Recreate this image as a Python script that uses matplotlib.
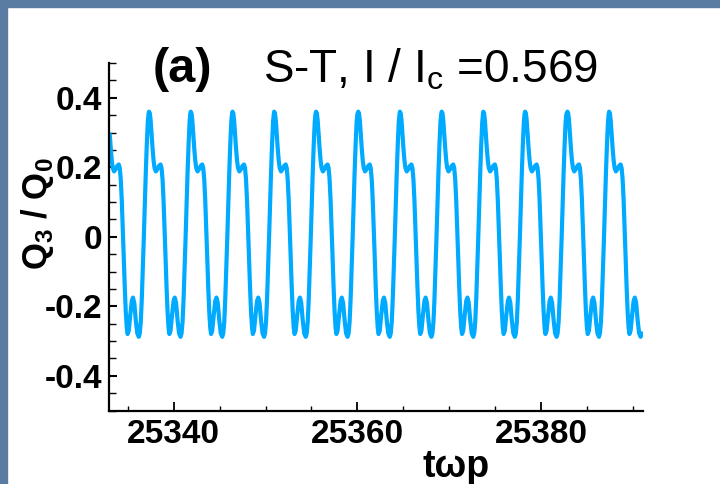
import numpy as np
import matplotlib
matplotlib.use("Agg")
import matplotlib.pyplot as plt
from matplotlib.patches import Rectangle
from matplotlib.ticker import MultipleLocator, FixedLocator

plt.rcParams['font.family'] = ['Liberation Sans', 'DejaVu Sans']
plt.rcParams['mathtext.fontset'] = 'custom'
plt.rcParams['mathtext.rm'] = 'Liberation Sans'
plt.rcParams['mathtext.bf'] = 'Liberation Sans:bold'

# ---- data ----
# times of the main maxima of Q3/Q0 (t*omega_p)
peak_times = [25332.76, 25337.31, 25341.85, 25346.40, 25350.94, 25355.50,
              25360.09, 25364.63, 25369.18, 25373.71, 25378.26, 25382.87,
              25387.41]
# shape of one oscillation, read after each maximum: offset in t*omega_p and value
cycle_dt = [0.000, 0.087, 0.174, 0.272, 0.381, 0.490, 0.599, 0.741, 0.926,
            1.090, 1.253, 1.362, 1.471, 1.580, 1.689, 1.798, 1.907, 2.016,
            2.125, 2.213, 2.343, 2.507, 2.670, 2.801, 2.943, 3.106, 3.270,
            3.433, 3.542, 3.651, 3.760, 3.869, 3.978, 4.087, 4.196, 4.305,
            4.414, 4.490]
cycle_q = [0.360, 0.355, 0.335, 0.295, 0.255, 0.220, 0.198, 0.188, 0.195,
           0.204, 0.208, 0.198, 0.165, 0.105, 0.025, -0.060, -0.145, -0.215,
           -0.262, -0.280, -0.270, -0.225, -0.185, -0.175, -0.190, -0.240,
           -0.278, -0.288, -0.278, -0.245, -0.180, -0.095, -0.005, 0.090,
           0.185, 0.265, 0.330, 0.352]
# recorded time window of the trace
t_start, t_end = 25333.03, 25391.05

x_ticks = [25340, 25360, 25380]
y_ticks = [-0.4, -0.2, 0, 0.2, 0.4]
y_tick_labels = ['-0.4', '-0.2', '0', '0.2', '0.4']
x_range = (25332.95, 25391.1)
y_range = (-0.5, 0.5)

# assemble the trace from the read cycles
t_all, q_all = [], []
for p in peak_times:
    for d, q in zip(cycle_dt, cycle_q):
        t_all.append(p + d)
        q_all.append(q)
t_all = np.array(t_all)
q_all = np.array(q_all)
keep = (t_all >= t_start) & (t_all <= t_end)
t_all, q_all = t_all[keep], q_all[keep]

W, H = 720, 484
fig = plt.figure(figsize=(W / 100, H / 100), dpi=100, facecolor='white')

# slide-like blue frame at top/left
border = '#5a7ca3'
fig.patches.append(Rectangle((0, 1 - 7 / H), 1, 7 / H, transform=fig.transFigure,
                             color=border, zorder=0))
fig.patches.append(Rectangle((0, 0), 7 / W, 1, transform=fig.transFigure,
                             color=border, zorder=0))

ax = fig.add_axes([109 / W, (H - 410.5) / H, (643 - 109) / W, (410.5 - 63) / H])
ax.set_facecolor('white')
ax.plot(t_all, q_all, color='#00aaff', lw=3.0, solid_joinstyle='round',
        solid_capstyle='round')
ax.set_xlim(*x_range)
ax.set_ylim(*y_range)

for s in ['top', 'right']:
    ax.spines[s].set_visible(False)
for s in ['left', 'bottom']:
    ax.spines[s].set_linewidth(1.6)
    ax.spines[s].set_color('black')

ax.xaxis.set_major_locator(FixedLocator(x_ticks))
ax.xaxis.set_minor_locator(MultipleLocator(5))
ax.yaxis.set_major_locator(FixedLocator(y_ticks))
ax.yaxis.set_minor_locator(MultipleLocator(0.05))
ax.set_xticklabels([str(v) for v in x_ticks])
ax.set_yticklabels(y_tick_labels)

ax.tick_params(axis='x', which='major', direction='in', length=6.5, width=1.3,
               pad=6, labelsize=24)
ax.tick_params(axis='x', which='minor', direction='in', length=3.6, width=1.0)
ax.tick_params(axis='y', which='major', direction='in', length=6.0, width=1.5,
               pad=5, labelsize=24)
ax.tick_params(axis='y', which='minor', direction='in', length=5.0, width=1.0)
for lab in ax.get_xticklabels() + ax.get_yticklabels():
    lab.set_fontweight('bold')

# title pieces
fig.text(153 / W, 1 - 82 / H, '(a)', fontsize=35, fontweight='bold',
         ha='left', va='baseline')
fig.text(263 / W, 1 - 82 / H, r'S-T, I / I$_\mathrm{c}$ =0.569', fontsize=33,
         ha='left', va='baseline')

# axis labels
fig.text(37 / W, 1 - 214 / H, r'Q$_\mathbf{3}$ / Q$_\mathbf{0}$', fontsize=25,
         fontweight='bold', rotation=90, ha='center', va='center')
fig.text(456 / W, 1 - 477 / H, 'tωp', fontsize=27, fontweight='bold',
         ha='center', va='baseline')

fig.savefig('out.png', dpi=100, facecolor='white')
